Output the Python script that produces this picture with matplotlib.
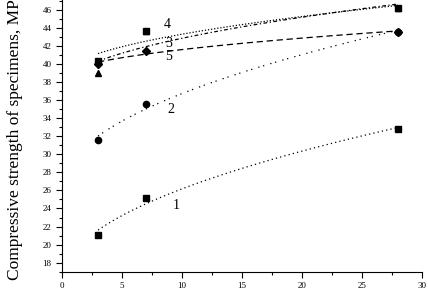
import numpy as np
import matplotlib
matplotlib.use("Agg")
import matplotlib.pyplot as plt
from matplotlib.ticker import MultipleLocator

# curing age, days
days = [3, 7, 28]

# compressive strength, MPa
s1 = [21.1, 25.2, 32.8]
s2 = [31.6, 35.6, 43.6]
s3 = [39.0, 43.7, 46.2]
s4 = [40.3, 43.7, 46.2]
s5 = [40.0, 41.4, 43.6]

series = [s1, s2, s3, s4, s5]
labels = ["1", "2", "3", "4", "5"]
label_pos = [(9.2, 24.3), (8.8, 35.0), (8.6, 42.3), (8.5, 44.4), (8.6, 40.8)]
markers = ["s", "o", "^", "s", "D"]
msizes = [4.5, 4.5, 4.5, 4.5, 4.0]
styles = [(0, (1, 2.5)), (0, (1, 3, 1, 5)), (0, (3, 2, 1, 2)), (0, (1, 1.5)), (0, (5, 3))]

plt.rcParams['font.family'] = ['Liberation Serif', 'DejaVu Serif']

fig = plt.figure(figsize=(4.28, 2.89), dpi=100)
ax = fig.add_axes([0.145, 0.06, 0.841, 0.94])

x = np.array(days, dtype=float)
xs = np.linspace(3, 28, 100)
for y, m, ms, ls in zip(series, markers, msizes, styles):
    # trend curve: y = a + b*sqrt(x)
    b, a = np.polyfit(np.sqrt(x), y, 1)
    ax.plot(xs, a + b * np.sqrt(xs), color="black", lw=0.9, linestyle=ls)
    ax.plot(days, y, linestyle="none", marker=m, markersize=ms, color="black")

for lab, (lx, ly) in zip(labels, label_pos):
    ax.text(lx, ly, lab, fontsize=10, ha="left", va="center")

ax.set_xlim(0, 30)
ax.set_ylim(17, 47.1)
ax.xaxis.set_major_locator(MultipleLocator(5))
ax.xaxis.set_minor_locator(MultipleLocator(2.5))
ax.yaxis.set_major_locator(MultipleLocator(2))
ax.yaxis.set_minor_locator(MultipleLocator(1))
ax.set_yticks(np.arange(18, 47, 2))
ax.tick_params(which="major", direction="out", length=4, width=0.8, labelsize=6.5)
ax.tick_params(which="minor", direction="out", length=2, width=0.8)
ax.spines["top"].set_visible(False)
ax.spines["right"].set_visible(False)
ax.set_ylabel("Compressive strength of specimens, MPa", fontsize=12.5, labelpad=14)

fig.savefig("out.png", dpi=100)
